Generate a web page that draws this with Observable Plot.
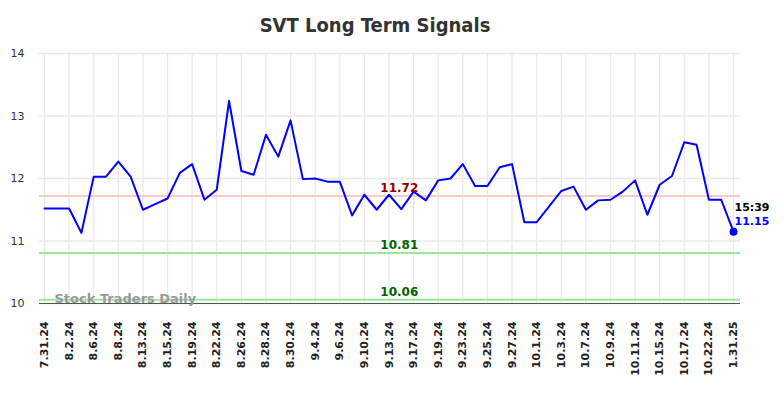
<!DOCTYPE html>
<html>
<head>
<meta charset="utf-8">
<script src="https://cdn.jsdelivr.net/npm/d3@7"></script>
<script src="https://cdn.jsdelivr.net/npm/@observablehq/plot@0.6"></script>
<style>
  body { margin: 0; background: #fff; }
  #title { position: relative; width: 784px; height: 45px; }
  #title span {
    position: absolute; left: 375px; top: 15px; transform: translateX(-50%);
    font-family: "DejaVu Sans Condensed", "DejaVu Sans", sans-serif; font-stretch: condensed;
    font-weight: bold; font-size: 20px; line-height: 20px; color: #333; white-space: nowrap;
  }
  #chart svg { display: block; }
</style>
</head>
<body>
<div id="title"><span>SVT Long Term Signals</span></div>
<div id="chart"></div>
<script>
const dates = [
  "7.31.24","8.1.24","8.2.24","8.5.24","8.6.24","8.7.24","8.8.24","8.9.24","8.13.24","8.14.24",
  "8.15.24","8.16.24","8.19.24","8.20.24","8.22.24","8.23.24","8.26.24","8.27.24","8.28.24","8.29.24",
  "8.30.24","9.3.24","9.4.24","9.5.24","9.6.24","9.9.24","9.10.24","9.11.24","9.13.24","9.16.24",
  "9.17.24","9.18.24","9.19.24","9.20.24","9.23.24","9.24.24","9.25.24","9.26.24","9.27.24","9.30.24",
  "10.1.24","10.2.24","10.3.24","10.4.24","10.7.24","10.8.24","10.9.24","10.10.24","10.11.24","10.14.24",
  "10.15.24","10.16.24","10.17.24","10.18.24","10.22.24","10.23.24","1.31.25"
];
const prices = [
  11.52,11.52,11.52,11.13,12.03,12.03,12.27,12.03,11.50,11.59,
  11.68,12.09,12.23,11.66,11.82,13.24,12.12,12.06,12.70,12.35,
  12.93,11.99,12.00,11.95,11.95,11.41,11.74,11.50,11.74,11.51,
  11.79,11.65,11.97,12.00,12.23,11.88,11.88,12.18,12.23,11.30,
  11.30,11.55,11.80,11.87,11.50,11.65,11.66,11.79,11.97,11.42,
  11.90,12.04,12.58,12.54,11.66,11.66,11.15
];
const tickDates = [
  "7.31.24","8.2.24","8.6.24","8.8.24","8.13.24","8.15.24","8.19.24","8.22.24","8.26.24","8.28.24",
  "8.30.24","9.4.24","9.6.24","9.10.24","9.13.24","9.17.24","9.19.24","9.23.24","9.25.24","9.27.24",
  "10.1.24","10.3.24","10.7.24","10.9.24","10.11.24","10.15.24","10.17.24","10.22.24","1.31.25"
];
const yTicks = [10, 11, 12, 13, 14];
const signalLevels = [11.72, 10.81, 10.06];
const signalLabels = ["11.72", "10.81", "10.06"];
const lastTime = "15:39";
const lastLabel = "11.15";
const watermark = "Stock Traders Daily";

const series = dates.map((d, i) => ({date: d, price: prices[i]}));
const last = series[series.length - 1];
const levelRows = signalLevels.map((v, i) => ({v, label: signalLabels[i], kind: i === 0 ? "res" : "sup"}));
const labelX = dates[29];

const chart = Plot.plot({
  width: 784,
  height: 353,
  marginTop: 8,
  marginBottom: 95,
  marginLeft: 39,
  marginRight: 44,
  style: {fontFamily: "DejaVu Sans, sans-serif", background: "#fff"},
  x: {type: "point", domain: dates, padding: 0, round: false, insetLeft: 5, insetRight: 7},
  y: {domain: [10, 14]},
  marks: [
    Plot.ruleY(yTicks, {stroke: "#e9e9e9", strokeWidth: 1.3}),
    Plot.ruleX(tickDates, {stroke: "#e9e9e9", strokeWidth: 1.3}),
    Plot.ruleY(levelRows, {y: "v", stroke: d => d.kind === "res" ? "#ffc9c9" : "#9be89b", strokeWidth: 2}),
    Plot.ruleY([10], {stroke: "#555", strokeWidth: 1.2}),
    Plot.text([watermark], {frameAnchor: "bottom-left", dx: 15, dy: -1, text: d => d, fill: "#9a9a9a", fontWeight: "bold", fontSize: 13, textAnchor: "start"}),
    Plot.line(series, {x: "date", y: "price", stroke: "#0000ff", strokeWidth: 2}),
    Plot.dot([last], {x: "date", y: "price", r: 4, fill: "#0000ff", stroke: "none"}),
    Plot.text(levelRows, {x: () => labelX, y: "v", text: "label", dy: -8, dx: -2, fontWeight: "bold", fontSize: 12, fill: d => d.kind === "res" ? "#8b0000" : "#006400"}),
    Plot.text([last], {x: "date", y: "price", text: () => lastTime, dy: -24, dx: 1, textAnchor: "start", fontWeight: "bold", fontSize: 11, fill: "#000"}),
    Plot.text([last], {x: "date", y: "price", text: () => lastLabel, dy: -10, dx: 1, textAnchor: "start", fontWeight: "bold", fontSize: 11, fill: "#0000ff"}),
    Plot.axisY({ticks: yTicks, tickSize: 0, tickPadding: 15, fontSize: 11, fill: "#333", tickFormat: d3.format("d")}),
    Plot.axisX({ticks: tickDates, tickSize: 0, tickPadding: 18, tickRotate: -90, fontSize: 11, fontWeight: "bold", fill: "#222", label: null})
  ]
});
document.getElementById("chart").appendChild(chart);
</script>
</body>
</html>
